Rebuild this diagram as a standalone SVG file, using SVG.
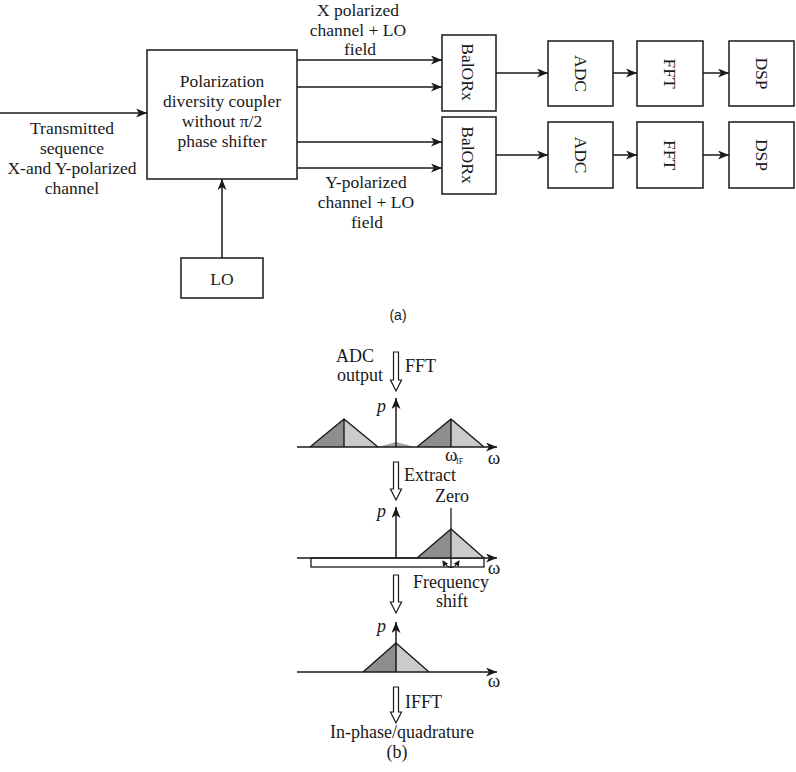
<svg xmlns="http://www.w3.org/2000/svg" width="796" height="772" viewBox="0 0 796 772">
<style>
  text { font-family: "Liberation Serif", "Times New Roman", serif; font-size: 17.5px; fill: #1a1a1a; }
  .b text { font-size: 18px; }
  .box { fill: #fff; stroke: #1a1a1a; stroke-width: 1.5; }
  .ln { fill: none; stroke: #1a1a1a; stroke-width: 1.5; }
  .c { text-anchor: middle; }
  .rot { text-anchor: middle; dominant-baseline: central; font-size: 17.5px; }
  .tri { fill: none; stroke: #1a1a1a; stroke-width: 1.4; stroke-linejoin: round; }
  .dark { fill: #8e8e8e; }
  .light { fill: #cbcbcb; }
  .hollow { fill: #fff; stroke: #1a1a1a; stroke-width: 1.2; }
  .it { font-style: italic; }
  .b text.w { font-size: 19px; }
  .b text.sub { font-size: 8px; }
</style>
<defs>
  <marker id="ah" markerUnits="userSpaceOnUse" markerWidth="12" markerHeight="10" refX="11" refY="4.5" orient="auto">
    <path d="M0,0 L11,4.5 L0,9 L3,4.5 z" fill="#1a1a1a"/>
  </marker>
  <marker id="sm" markerUnits="userSpaceOnUse" markerWidth="8" markerHeight="8" refX="5" refY="3" orient="auto-start-reverse">
    <path d="M0,0 L6,3 L0,6 z" fill="#1a1a1a"/>
  </marker>
</defs>

<!-- (a) nodes -->
<g id="coupler">
  <rect class="box" x="147" y="50" width="150" height="129"/>
  <text class="c" x="222" y="87">Polarization</text>
  <text class="c" x="222" y="107">diversity coupler</text>
  <text class="c" x="222" y="127">without π/2</text>
  <text class="c" x="222" y="147">phase shifter</text>
</g>
<g id="lo">
  <rect class="box" x="181" y="258" width="82" height="40"/>
  <text class="c" x="222" y="285">LO</text>
</g>
<g id="balorx1">
  <rect class="box" x="442" y="35" width="54" height="76"/>
  <text class="rot" transform="translate(468,72) rotate(90)">BalORx</text>
</g>
<g id="balorx2">
  <rect class="box" x="442" y="117" width="54" height="77"/>
  <text class="rot" transform="translate(468,155) rotate(90)">BalORx</text>
</g>
<g id="adc1">
  <rect class="box" x="548" y="41" width="65" height="65"/>
  <text class="rot" transform="translate(580.5,73.5) rotate(90)">ADC</text>
</g>
<g id="fft1">
  <rect class="box" x="637" y="41" width="66" height="65"/>
  <text class="rot" transform="translate(670,73.5) rotate(90)">FFT</text>
</g>
<g id="dsp1">
  <rect class="box" x="729" y="41" width="65" height="65"/>
  <text class="rot" transform="translate(761.5,73.5) rotate(90)">DSP</text>
</g>
<g id="adc2">
  <rect class="box" x="548" y="122" width="65" height="66"/>
  <text class="rot" transform="translate(580.5,155) rotate(90)">ADC</text>
</g>
<g id="fft2">
  <rect class="box" x="637" y="122" width="66" height="66"/>
  <text class="rot" transform="translate(670,155) rotate(90)">FFT</text>
</g>
<g id="dsp2">
  <rect class="box" x="729" y="122" width="65" height="66"/>
  <text class="rot" transform="translate(761.5,155) rotate(90)">DSP</text>
</g>

<!-- (a) connectors -->
<g id="connectors">
  <line class="ln" x1="0" y1="113" x2="147" y2="113" marker-end="url(#ah)"/>
  <line class="ln" x1="222" y1="258" x2="222" y2="179" marker-end="url(#ah)"/>
  <line class="ln" x1="297" y1="60" x2="442" y2="60" marker-end="url(#ah)"/>
  <line class="ln" x1="297" y1="87" x2="442" y2="87" marker-end="url(#ah)"/>
  <line class="ln" x1="297" y1="142" x2="442" y2="142" marker-end="url(#ah)"/>
  <line class="ln" x1="297" y1="168" x2="442" y2="168" marker-end="url(#ah)"/>
  <line class="ln" x1="496" y1="73" x2="548" y2="73" marker-end="url(#ah)"/>
  <line class="ln" x1="613" y1="73" x2="637" y2="73" marker-end="url(#ah)"/>
  <line class="ln" x1="703" y1="73" x2="729" y2="73" marker-end="url(#ah)"/>
  <line class="ln" x1="496" y1="155" x2="548" y2="155" marker-end="url(#ah)"/>
  <line class="ln" x1="613" y1="155" x2="637" y2="155" marker-end="url(#ah)"/>
  <line class="ln" x1="703" y1="155" x2="729" y2="155" marker-end="url(#ah)"/>
</g>

<!-- (a) labels -->
<g id="labels-a">
  <text class="c" x="72" y="134">Transmitted</text>
  <text class="c" x="72" y="154">sequence</text>
  <text class="c" x="72" y="174">X-and Y-polarized</text>
  <text class="c" x="72" y="194">channel</text>
  <text class="c" x="358" y="16">X polarized</text>
  <text class="c" x="358" y="36">channel + LO</text>
  <text class="c" x="360" y="55">field</text>
  <text class="c" x="366" y="188">Y-polarized</text>
  <text class="c" x="366" y="208">channel + LO</text>
  <text class="c" x="367" y="228">field</text>
  <text class="c" x="398" y="320" style="font-family:'Liberation Sans',Arial,sans-serif;font-size:14px">(a)</text>
</g>

<!-- (b) -->
<g id="part-b" class="b">
  <!-- hollow arrows -->
  <polygon class="hollow" points="393.5,352 398.5,352 398.5,380 401.5,380 396,391 390.5,380 393.5,380"/>
  <polygon class="hollow" points="393.5,462 398.5,462 398.5,489 401.5,489 396,500 390.5,489 393.5,489"/>
  <polygon class="hollow" points="393.5,575 398.5,575 398.5,602 401.5,602 396,613 390.5,602 393.5,602"/>
  <polygon class="hollow" points="393.5,687 398.5,687 398.5,712 401.5,712 396,723 390.5,712 393.5,712"/>

  <text class="c" x="355" y="362">ADC</text>
  <text class="c" x="360" y="381">output</text>
  <text x="405" y="372">FFT</text>
  <text x="404" y="481">Extract</text>
  <text class="c" x="451" y="588">Frequency</text>
  <text class="c" x="452" y="607">shift</text>
  <text x="405" y="708">IFFT</text>
  <text class="c" x="402" y="738">In-phase/quadrature</text>
  <text class="c" x="397" y="758">(b)</text>

  <!-- panel 1 -->
  <g id="spectrum1">
    <polygon class="dark" points="310,447 344,419 344,447"/>
    <polygon class="light" points="344,419 378,447 344,447"/>
    <polygon fill="#a4a4a4" points="378,447 396,442 415,447"/>
    <polygon class="dark" points="417,447 451,419 451,447"/>
    <polygon class="light" points="451,419 484,447 451,447"/>
    <path class="tri" d="M310,447 L344,419 L378,447 M344,419 V447 M417,447 L451,419 L484,447 M451,419 V447"/>
    <line class="ln" x1="297" y1="447" x2="497" y2="447" marker-end="url(#ah)"/>
    <line class="ln" x1="396" y1="447" x2="396" y2="398" marker-end="url(#ah)"/>
    <text class="it" x="377" y="412">p</text>
    <text class="w" x="445" y="461">ω</text>
    <text class="sub" x="456" y="464">IF</text>
    <text class="c w" x="494" y="464">ω</text>
  </g>

  <!-- panel 2 -->
  <g id="spectrum2">
    <rect class="box" x="311" y="558" width="173" height="9" style="stroke-width:1.3"/>
    <polygon class="dark" points="417,558 451,529 451,558"/>
    <polygon class="light" points="451,529 484,558 451,558"/>
    <path class="tri" d="M417,558 L451,529 L484,558"/>
    <line class="ln" x1="451" y1="508" x2="451" y2="568" style="stroke-width:1.3"/>
    <path d="M443,561 Q451,574 459,561" fill="none" stroke="#1a1a1a" stroke-width="1.2" marker-start="url(#sm)" marker-end="url(#sm)"/>
    <line class="ln" x1="297" y1="558" x2="497" y2="558" marker-end="url(#ah)"/>
    <line class="ln" x1="396" y1="558" x2="396" y2="507" marker-end="url(#ah)"/>
    <text class="it" x="377" y="517">p</text>
    <text class="c" x="452" y="502">Zero</text>
    <text class="c w" x="494" y="574">ω</text>
  </g>

  <!-- panel 3 -->
  <g id="spectrum3">
    <polygon class="dark" points="363,672 396,643 396,672"/>
    <polygon class="light" points="396,643 429,672 396,672"/>
    <path class="tri" d="M363,672 L396,643 L429,672"/>
    <line class="ln" x1="297" y1="672" x2="497" y2="672" marker-end="url(#ah)"/>
    <line class="ln" x1="396" y1="672" x2="396" y2="622" marker-end="url(#ah)"/>
    <text class="it" x="377" y="632">p</text>
    <text class="c w" x="494" y="687">ω</text>
  </g>
</g>
</svg>
